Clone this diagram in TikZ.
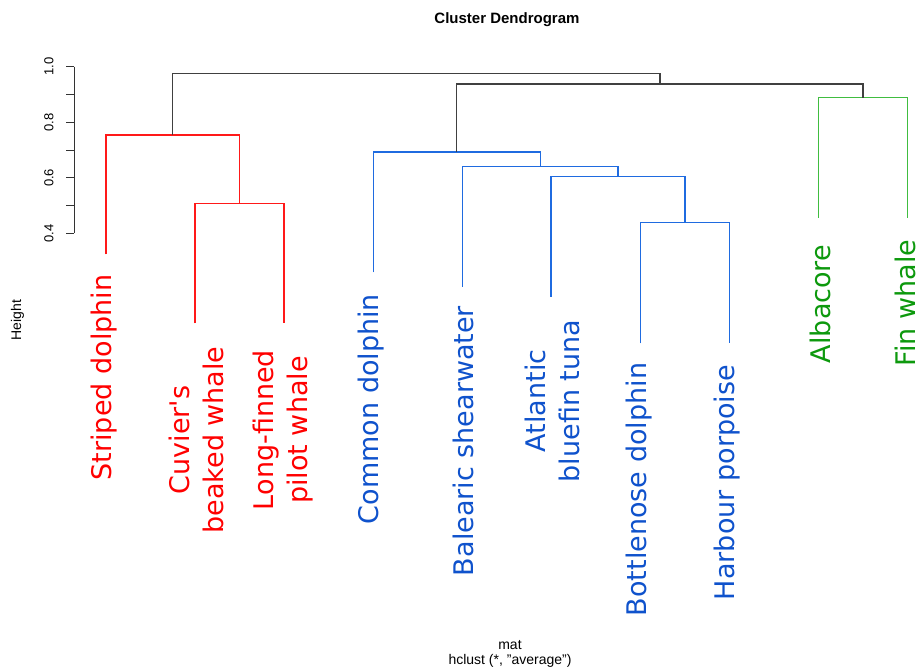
\documentclass[tikz,border=0pt]{standalone}
\usepackage{fontspec}
\setmainfont{Liberation Sans}
\newfontfamily\leaffont{DejaVu Sans}
\usetikzlibrary{calc}
\definecolor{brred}{rgb}{1.00, 0.10, 0.10}
\definecolor{lbred}{rgb}{1.00, 0.00, 0.00}
\definecolor{brblue}{rgb}{0.12, 0.42, 0.88}
\definecolor{lbblue}{rgb}{0.06, 0.32, 0.80}
\definecolor{brgreen}{rgb}{0.25, 0.74, 0.25}
\definecolor{lbgreen}{rgb}{0.05, 0.60, 0.05}
\definecolor{trunkgray}{rgb}{0.25, 0.25, 0.25}
\tikzstyle{trunk}=[color=trunkgray,line width=1.1pt]
\tikzstyle{redbranch}=[color=brred,line width=1.2pt]
\tikzstyle{bluebranch}=[color=brblue,line width=1.2pt]
\tikzstyle{greenbranch}=[color=brgreen,line width=1.2pt]
\tikzstyle{axisline}=[color=black!80,line width=1.0pt]
\tikzstyle{axistext}=[font=\fontsize{13}{15}\selectfont,inner sep=0pt]
\tikzstyle{leaf}=[font=\leaffont\fontsize{27}{34}\selectfont,rotate=90,align=center,inner sep=0pt]
\tikzstyle{redleaf}=[leaf,text=lbred]
\tikzstyle{blueleaf}=[leaf,text=lbblue]
\tikzstyle{greenleaf}=[leaf,text=lbgreen]

\begin{document}
\begin{tikzpicture}[x=1pt,y=-1pt]

  \useasboundingbox[fill=white] (0,0) rectangle (921,670);

  % TITLES
  \node[font=\bfseries\fontsize{15}{17}\selectfont] (title) at (507,20) {Cluster Dendrogram};
  \node[axistext,rotate=90,font=\fontsize{14}{16}\selectfont] (ylab) at (17.5,320) {Height};
  \node[axistext,font=\fontsize{14}{16}\selectfont] (xlab) at (510,645) {mat};
  \node[axistext,font=\fontsize{14}{16}\selectfont] (method) at (510,661) {hclust (*, \symbol{34}average\symbol{34})};

  % AXIS
  \draw[axisline] (74,66.7) -- (74,233.3);
  \foreach \h in {4,...,10}
    \draw[axisline] (74,{66.7+(10-\h)*27.78}) -- (66,{66.7+(10-\h)*27.78});
  \foreach \h/\txt in {4/0.4,6/0.6,8/0.8,10/1.0}
    \node[axistext,rotate=90] (tick\h) at (49,{66.7+(10-\h)*27.78}) {\txt};

  % LEAF ENDS
  \coordinate (sd) at (106.0,254.3);
  \coordinate (cb) at (195.0,323.3);
  \coordinate (lf) at (284.0,323.3);
  \coordinate (cd) at (373.3,272.3);
  \coordinate (bs) at (462.3,286.7);
  \coordinate (at) at (551.0,296.7);
  \coordinate (bd) at (640.7,343.3);
  \coordinate (hp) at (729.3,343.3);
  \coordinate (al) at (818.3,217.7);
  \coordinate (fw) at (907.7,217.7);

  % MERGES
  \coordinate (m1) at (239.5,203.7);
  \coordinate (m2) at (172.7,135.0);
  \coordinate (m3) at (685.0,222.7);
  \coordinate (m4) at (618.0,176.7);
  \coordinate (m5) at (540.2,166.7);
  \coordinate (m6) at (456.7,152.0);
  \coordinate (m7) at (863.0,97.7);
  \coordinate (m8) at (660.0,84.0);
  \coordinate (m9) at (416.3,73.3);

  % BRANCHES
  \draw[redbranch] (cb) |- (m1) -| (lf);
  \draw[redbranch] (sd) |- (m2) -| (m1);
  \draw[bluebranch] (bd) |- (m3) -| (hp);
  \draw[bluebranch] (at) |- (m4) -| (m3);
  \draw[bluebranch] (bs) |- (m5) -| (m4);
  \draw[bluebranch] (cd) |- (m6) -| (m5);
  \draw[greenbranch] (al) |- (m7) -| (fw);
  \draw[trunk] (m6) |- (m8) -| (m7);
  \draw[trunk] (m2) |- (m9) -| (m8);

  % LABELS
  \node[redleaf] (lsd) at (104,377.5) {Striped dolphin};
  \node[redleaf] (lcb) at (196,440) {Cuvier's\\beaked whale};
  \node[redleaf] (llf) at (283,430) {Long-finned\\pilot whale};
  \node[blueleaf] (lcd) at (371.5,409) {Common dolphin};
  \node[blueleaf] (lbs) at (463.5,441) {Balearic shearwater};
  \node[blueleaf] (lat) at (552.5,401) {Atlantic\\bluefin tuna};
  \node[blueleaf] (lbd) at (639,489.5) {Bottlenose dolphin};
  \node[blueleaf] (lhp) at (727.5,482.5) {Harbour porpoise};
  \node[greenleaf] (lal) at (820,304) {Albacore};
  \node[greenleaf] (lfw) at (905.5,303) {Fin whale};

\end{tikzpicture}
\end{document}
